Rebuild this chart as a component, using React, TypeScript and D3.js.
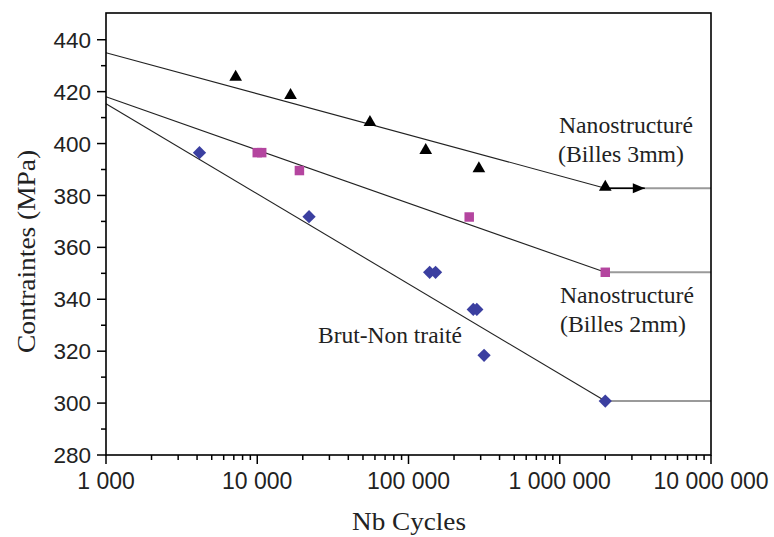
import React from "react";
import * as d3 from "d3";

// ---- Data ----
const triCycles = [7200, 16600, 55600, 130000, 292000, 2000000];
const triStress = [425.2, 418.2, 407.8, 397.0, 390.0, 382.8];

const sqCycles = [10000, 10700, 19000, 252000, 2000000];
const sqStress = [396.5, 396.5, 389.6, 371.7, 350.4];

const diaCycles = [4150, 22000, 138000, 151000, 268000, 283000, 316000, 2000000];
const diaStress = [396.5, 371.8, 350.4, 350.4, 336.1, 336.1, 318.4, 300.8];

// fitted lines: [start cycles, end cycles], [start stress, end stress]
const fitCycles = [1000, 2000000];
const triFit = [435.0, 382.8];
const sqFit = [418.0, 350.4];
const diaFit = [415.3, 300.8];

// runout (horizontal) lines
const runoutCycles = [2000000, 10000000];
const runoutStress = [382.8, 350.4, 300.8];
const arrowCycles = [2000000, 3650000];

const xTickValues = [1000, 10000, 100000, 1000000, 10000000];
const xTickLabels = ["1 000", "10 000", "100 000", "1 000 000", "10 000 000"];
const yTickValues = [280, 300, 320, 340, 360, 380, 400, 420, 440];

const W = 774;
const H = 537;
const left = 106;
const right = 711;
const top = 13;
const bottom = 455;

const x = d3.scaleLog().domain([1000, 10000000]).range([left, right]);
const y = d3.scaleLinear().domain([280, 450.3]).range([bottom, top]);

const SANS = "'Liberation Sans', Arial, sans-serif";
const SERIF = "'Liberation Serif', 'Times New Roman', serif";

const BLUE = "#3b3fa0";
const MAGENTA = "#b4459f";

function minorX(): number[] {
  const out: number[] = [];
  for (let e = 3; e < 7; e++) {
    for (let m = 2; m <= 9; m++) out.push(m * Math.pow(10, e));
  }
  return out;
}
const yMinor = d3.range(290, 450, 20);

export default function App() {
  const line = d3
    .line<[number, number]>()
    .x((d) => x(d[0]))
    .y((d) => y(d[1]));

  const tri = d3.symbol().type(d3.symbolTriangle).size(70)();
  const sq = d3.symbol().type(d3.symbolSquare).size(90)();
  const dia = d3.symbol().type(d3.symbolSquare).size(88)();

  const fits = [triFit, sqFit, diaFit];

  const ax = x(arrowCycles[1]);
  const ay = y(runoutStress[0]);

  return (
    <svg
      width={W}
      height={H}
      style={{ position: "absolute", left: 0, top: 0, background: "#fff" }}
    >
      {/* runout gray lines */}
      {runoutStress.map((s, i) => (
        <path
          key={"ro" + i}
          d={line([
            [runoutCycles[0], s],
            [runoutCycles[1], s],
          ]) || ""}
          stroke="#9a9a9a"
          strokeWidth={2}
          fill="none"
        />
      ))}

      {/* fit lines */}
      {fits.map((f, i) => (
        <path
          key={"fit" + i}
          d={line([
            [fitCycles[0], f[0]],
            [fitCycles[1], f[1]],
          ]) || ""}
          stroke="#222"
          strokeWidth={1.1}
          fill="none"
        />
      ))}

      {/* arrow */}
      <path
        d={line([
          [arrowCycles[0], runoutStress[0]],
          [arrowCycles[1], runoutStress[0]],
        ]) || ""}
        stroke="#000"
        strokeWidth={1.5}
      />
      <path
        d={`M${ax},${ay} L${ax - 12},${ay - 5} L${ax - 12},${ay + 5} Z`}
        fill="#000"
      />

      {/* markers */}
      {diaCycles.map((c, i) => (
        <path
          key={"d" + i}
          d={dia || ""}
          transform={`translate(${x(c)},${y(diaStress[i])}) rotate(45)`}
          fill={BLUE}
        />
      ))}
      {sqCycles.map((c, i) => (
        <path
          key={"s" + i}
          d={sq || ""}
          transform={`translate(${x(c)},${y(sqStress[i])})`}
          fill={MAGENTA}
        />
      ))}
      {triCycles.map((c, i) => (
        <path
          key={"t" + i}
          d={tri || ""}
          transform={`translate(${x(c)},${y(triStress[i]) - 1})`}
          fill="#000"
        />
      ))}

      {/* frame */}
      <rect
        x={left}
        y={top}
        width={right - left}
        height={bottom - top}
        fill="none"
        stroke="#000"
        strokeWidth={1.6}
      />

      {/* y ticks */}
      {yTickValues.map((v) => (
        <g key={"yt" + v}>
          <line x1={left - 9} x2={left} y1={y(v)} y2={y(v)} stroke="#000" strokeWidth={1.5} />
          <text
            x={left - 15}
            y={y(v)}
            dy="0.36em"
            textAnchor="end"
            fontFamily={SANS}
            fontSize={22.5}
            fill="#222"
          >
            {v}
          </text>
        </g>
      ))}
      {yMinor.map((v) => (
        <line key={"ym" + v} x1={left - 5} x2={left} y1={y(v)} y2={y(v)} stroke="#000" strokeWidth={1.5} />
      ))}

      {/* x ticks */}
      {xTickValues.map((v, i) => (
        <g key={"xt" + v}>
          <line x1={x(v)} x2={x(v)} y1={bottom} y2={bottom + 9} stroke="#000" strokeWidth={1.5} />
          <text
            x={x(v)}
            y={488.5}
            textAnchor="middle"
            fontFamily={SANS}
            fontSize={23}
            fill="#222"
          >
            {xTickLabels[i]}
          </text>
        </g>
      ))}
      {minorX().map((v) => (
        <line key={"xm" + v} x1={x(v)} x2={x(v)} y1={bottom} y2={bottom + 5} stroke="#000" strokeWidth={1.5} />
      ))}

      {/* axis titles */}
      <text
        x={409}
        y={530}
        textAnchor="middle"
        fontFamily={SERIF}
        fontSize={25}
        textLength={114}
        lengthAdjust="spacingAndGlyphs"
        fill="#222"
      >
        Nb Cycles
      </text>
      <text
        transform="translate(35,251.5) rotate(-90)"
        textAnchor="middle"
        fontFamily={SERIF}
        fontSize={26}
        textLength={203}
        lengthAdjust="spacingAndGlyphs"
        fill="#222"
      >
        Contraintes (MPa)
      </text>

      {/* annotations */}
      <g fontFamily={SERIF} fontSize={24} fill="#222">
        <text x={559} y={133.3} textLength={134} lengthAdjust="spacingAndGlyphs">
          Nanostructuré
        </text>
        <text x={558} y={161.7} textLength={126} lengthAdjust="spacingAndGlyphs">
          (Billes 3mm)
        </text>
        <text x={560} y={302.7} textLength={134} lengthAdjust="spacingAndGlyphs">
          Nanostructuré
        </text>
        <text x={560} y={332} textLength={126} lengthAdjust="spacingAndGlyphs">
          (Billes 2mm)
        </text>
        <text x={318} y={343.3} textLength={144} lengthAdjust="spacingAndGlyphs">
          Brut-Non traité
        </text>
      </g>
    </svg>
  );
}
